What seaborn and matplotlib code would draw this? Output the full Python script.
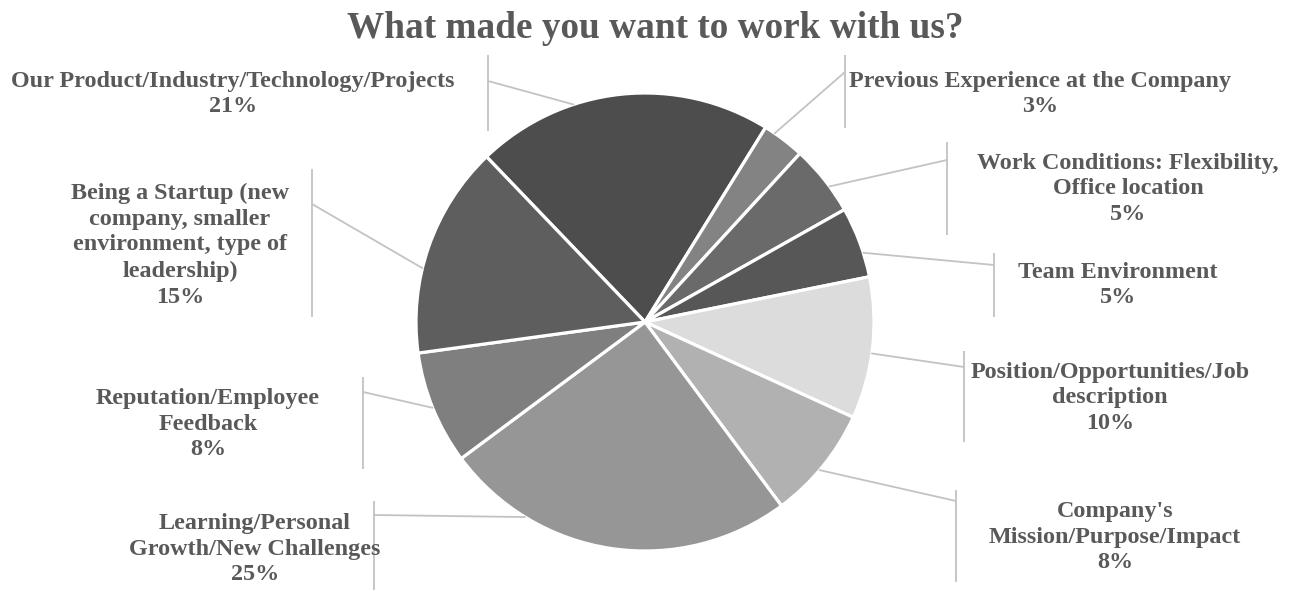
import matplotlib
matplotlib.use("Agg")
import matplotlib.pyplot as plt
import seaborn as sns
import numpy as np

# ---- data ----
categories = [
    "Our Product/Industry/Technology/Projects",
    "Previous Experience at the Company",
    "Work Conditions: Flexibility,\nOffice location",
    "Team Environment",
    "Position/Opportunities/Job\ndescription",
    "Company's\nMission/Purpose/Impact",
    "Learning/Personal\nGrowth/New Challenges",
    "Reputation/Employee\nFeedback",
    "Being a Startup (new\ncompany, smaller\nenvironment, type of\nleadership)",
]
percent = [21, 3, 5, 5, 10, 8, 25, 8, 15]
colors = ["#4d4d4d", "#838383", "#6a6a6a", "#575757", "#dcdcdc",
          "#b1b1b1", "#969696", "#7f7f7f", "#5e5e5e"]
title = "What made you want to work with us?"

# ---- layout (pixel coordinates, y from top) ----
W, H = 1310, 591
center_px = (645, 322)
radius_px = 229
label_pos = [(233, 94), (1040, 94), (1128, 189), (1118, 285), (1110, 398),
             (1115, 537), (255, 549), (208, 424), (180, 245)]
bracket_x = [488, 845, 947, 994, 964, 956, 374, 363, 312]
bracket_y = [(55, 131), (55, 128), (142, 235), (253, 317), (351, 442),
             (490, 582), (501, 590), (377, 469), (169, 317)]
leader_y = [81, 72, 160, 265, 367, 501, 515, 392, 204]
attach_deg = [-18.2, 34.5, 53.7, 72.4, 97.9, 130.3, 211.6, 248.0, 283.6]

sns.set_theme(style="white")
plt.rcParams["font.family"] = ["Liberation Serif", "DejaVu Serif"]

fig = plt.figure(figsize=(W / 100, H / 100), dpi=100)
ax = fig.add_axes([0, 0, 1, 1])

cx, cy = center_px[0], H - center_px[1]
ax.pie(percent, colors=colors, startangle=90 + 43.8, counterclock=False,
       center=(cx, cy), radius=radius_px,
       wedgeprops=dict(edgecolor="white", linewidth=2.3))
ax.set_xlim(0, W)
ax.set_ylim(0, H)
ax.set_aspect("equal")
ax.axis("off")

text_color = "#595959"
line_color = "#c3c3c3"
for i, cat in enumerate(categories):
    lx, ly = label_pos[i]
    ax.text(lx, H - ly, f"{cat}\n{percent[i]}%", ha="center", va="center",
            fontsize=17.4, fontweight="bold", color=text_color, linespacing=1.31)
    bx = bracket_x[i]
    y0, y1 = bracket_y[i]
    ax.plot([bx, bx], [H - y0, H - y1], color=line_color, lw=1.3,
            solid_capstyle="butt")
    a = np.deg2rad(attach_deg[i])
    px = cx + radius_px * np.sin(a)
    py = cy + radius_px * np.cos(a)
    ax.plot([bx, px], [H - leader_y[i], py], color=line_color, lw=1.3)

fig.text(0.5, 1 - 28 / H, title, ha="center", va="center", fontsize=26.8,
         fontweight="bold", color=text_color)

fig.savefig("out.png", dpi=100, facecolor="white")
